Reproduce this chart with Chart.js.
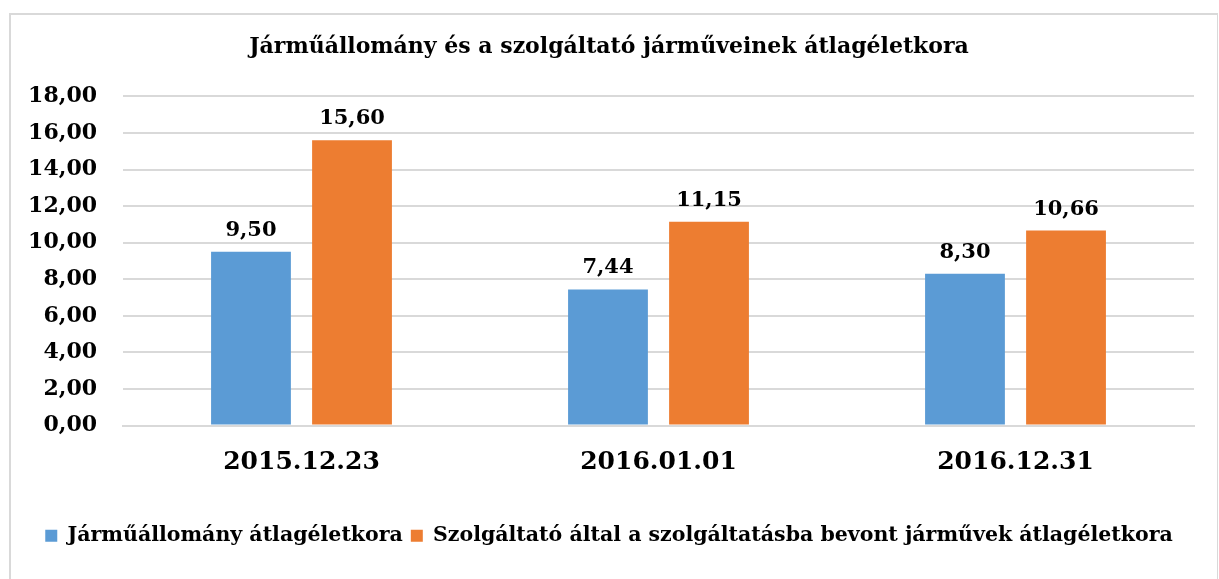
<!DOCTYPE html>
<html>
<head>
<meta charset="utf-8">
<script src="https://cdn.jsdelivr.net/npm/chart.js@4.4.1/dist/chart.umd.min.js"></script>
<style>
  html, body { margin: 0; padding: 0; background: #fff; }
  #wrap { position: relative; width: 1219px; height: 579px; overflow: hidden; }
  #frame { position: absolute; left: 9px; top: 13px; width: 1209px; height: 620px; border: 2px solid #d9d9d9; border-right-width: 1px; box-sizing: border-box; pointer-events: none; }
  canvas { position: absolute; left: 0; top: 0; }
</style>
</head>
<body>
<div id="wrap">
  <canvas id="c" width="1219" height="579"></canvas>
  <div id="frame"></div>
</div>
<script>
const categories = ['2015.12.23', '2016.01.01', '2016.12.31'];
const seriesNames = ['Járműállomány átlagéletkora', 'Szolgáltató által a szolgáltatásba bevont járművek átlagéletkora'];
const fleetAge = [9.50, 7.44, 8.30];
const providerAge = [15.60, 11.15, 10.66];
const yTicks = [0, 2, 4, 6, 8, 10, 12, 14, 16, 18];
const titleText = 'Járműállomány és a szolgáltató járműveinek átlagéletkora';

const FONT = "'DejaVu Serif', 'Liberation Serif', serif";
const fmt = v => v.toFixed(2).replace('.', ',');

const valueLabels = {
  id: 'valueLabels',
  afterDatasetsDraw(chart) {
    const ctx = chart.ctx;
    ctx.save();
    ctx.font = "bold 21px " + FONT;
    ctx.fillStyle = '#000';
    ctx.textAlign = 'center';
    ctx.textBaseline = 'alphabetic';
    chart.data.datasets.forEach((ds, i) => {
      const meta = chart.getDatasetMeta(i);
      meta.data.forEach((el, j) => {
        ctx.fillText(fmt(ds.data[j]), el.x, el.y - 16);
      });
    });
    ctx.restore();
  }
};

new Chart(document.getElementById('c'), {
  type: 'bar',
  data: {
    labels: categories,
    datasets: [
      { label: seriesNames[0], data: fleetAge, backgroundColor: '#5B9BD5', borderWidth: 0 },
      { label: seriesNames[1], data: providerAge, backgroundColor: '#ED7D31', borderWidth: 0 }
    ]
  },
  options: {
    responsive: false,
    animation: false,
    devicePixelRatio: 1,
    layout: { padding: { left: 24, right: 25, top: 0, bottom: 23 } },
    datasets: { bar: { categoryPercentage: 0.566, barPercentage: 0.79 } },
    scales: {
      x: {
        grid: { display: false, drawTicks: false },
        border: { display: true, color: '#d9d9d9', width: 2 },
        ticks: { color: '#000', font: { family: FONT, size: 25, weight: 'bold' }, padding: 22 },
        afterFit(s) { s.height = 92; }
      },
      y: {
        min: 0, max: 18,
        afterBuildTicks(s) { s.ticks = yTicks.map(v => ({ value: v })); },
        grid: { color: '#d9d9d9', lineWidth: 2, drawTicks: false },
        border: { display: false },
        ticks: { color: '#000', font: { family: FONT, size: 22, weight: 'bold' }, padding: 26, callback: v => fmt(v) },
        afterFit(s) { s.width = 99; }
      }
    },
    plugins: {
      title: {
        display: true, text: titleText, color: '#000',
        font: { family: FONT, size: 22, weight: 'bold' },
        padding: { top: 34, bottom: 36 }
      },
      legend: {
        position: 'bottom',
        labels: { color: '#000', font: { family: FONT, size: 20.5, weight: 'bold' }, boxWidth: 12, boxHeight: 12, padding: 8 }
      },
      tooltip: { enabled: false }
    }
  },
  plugins: [valueLabels]
});
</script>
</body>
</html>
